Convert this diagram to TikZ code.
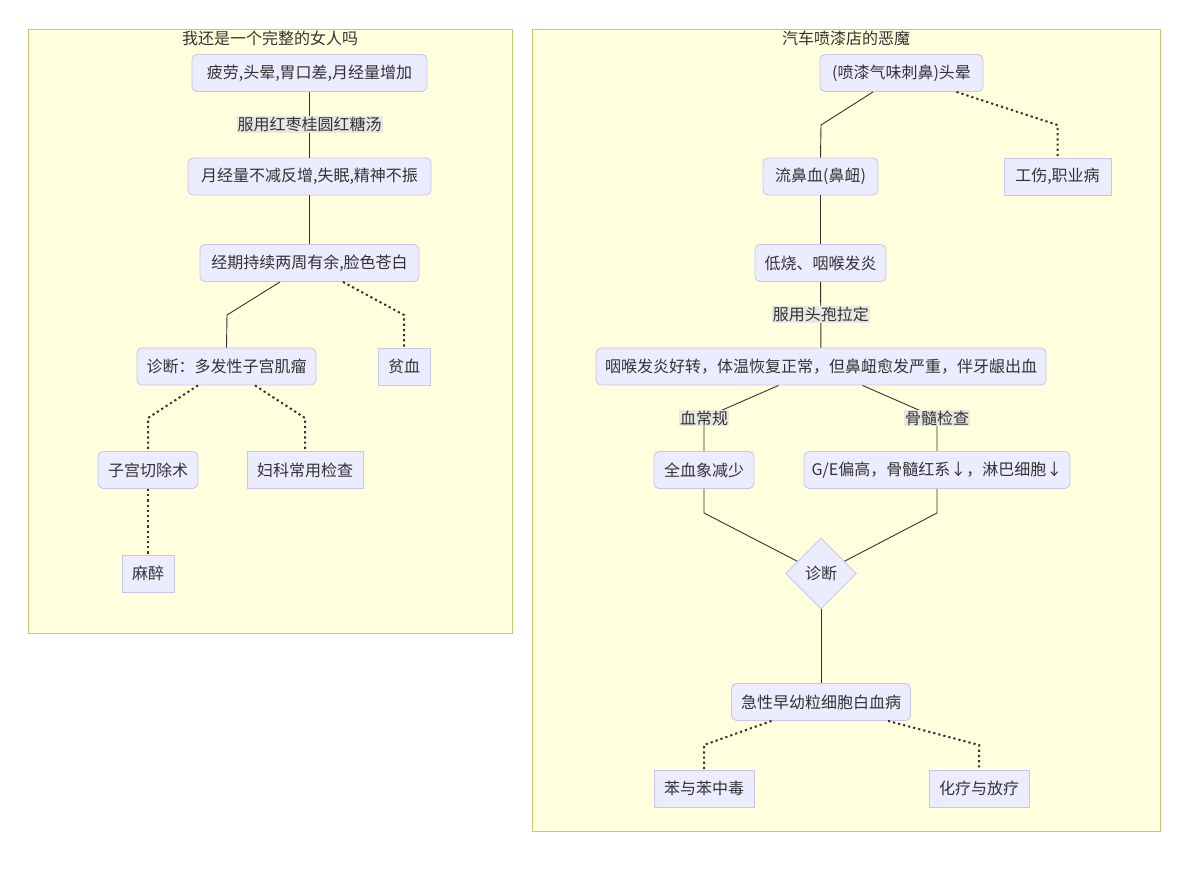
\documentclass[tikz,border=0pt]{standalone}
\usepackage{fontspec}
\setmainfont{Noto Sans CJK SC}
\usetikzlibrary{shapes.geometric}
\definecolor{nodefill}{HTML}{ECECFF}
\definecolor{nodeline}{HTML}{C6C6F2}
\definecolor{clfill}{HTML}{FFFFDE}
\definecolor{clline}{HTML}{C8C86E}
\definecolor{txt}{HTML}{333333}
\definecolor{lblbg}{HTML}{E8E8E2}
\begin{document}
\begin{tikzpicture}[x=1pt,y=-1pt,
  every node/.style={text=txt, font=\fontsize{16}{19}\selectfont},
  cluster/.style={draw=clline, fill=clfill, line width=1pt, inner sep=0pt},
  rbox/.style={draw=nodeline, fill=nodefill, rounded corners=5pt, minimum height=37pt, inner xsep=0pt, line width=0.9pt},
  sbox/.style={draw=nodeline, fill=nodefill, minimum height=37pt, inner xsep=0pt, line width=0.9pt},
  dbox/.style={diamond, draw=nodeline, fill=nodefill, minimum width=71pt, minimum height=71pt, inner sep=0pt, line width=0.9pt},
  edge/.style={draw=txt, line width=0.9pt},
  dotedge/.style={draw=txt, line width=2pt, dash pattern=on 2.2pt off 3pt},
  lbl/.style={fill=lblbg, inner sep=1pt}
]
\useasboundingbox (0,0) rectangle (1200,882);
\fill[white] (0,0) rectangle (1200,882);

% clusters
\node[cluster, minimum width=484pt, minimum height=603pt] (c1) at (270,331.5) {};
\node[cluster, minimum width=628pt, minimum height=801pt] (c2) at (846,430.5) {};
\node (t1) at (270,38) {我还是一个完整的女人吗};
\node (t2) at (846,38) {汽车喷漆店的恶魔};

% left nodes
\node[rbox, minimum width=235pt] (A) at (309.5,73) {疲劳,头晕,胃口差,月经量增加};
\node[rbox, minimum width=243pt] (B) at (309.5,176.5) {月经量不减反增,失眠,精神不振};
\node[rbox, minimum width=219pt] (C) at (309.5,263) {经期持续两周有余,脸色苍白};
\node[rbox, minimum width=179pt] (D) at (226.5,366.5) {诊断：多发性子宫肌瘤};
\node[sbox, minimum width=52pt] (E) at (404,366.5) {贫血};
\node[rbox, minimum width=100pt] (F) at (148,470) {子宫切除术};
\node[sbox, minimum width=116pt] (G) at (305,470) {妇科常用检查};
\node[sbox, minimum width=52pt] (H) at (148,573.5) {麻醉};

% right nodes
\node[rbox, minimum width=163pt] (R1) at (901.5,73) {(喷漆气味刺鼻)头晕};
\node[rbox, minimum width=115pt] (R2) at (820.5,176.5) {流鼻血(鼻衄)};
\node[sbox, minimum width=107pt] (R3) at (1057.5,176.5) {工伤,职业病};
\node[rbox, minimum width=131pt] (R4) at (820.5,263) {低烧、咽喉发炎};
\node[rbox, minimum width=450pt] (R5) at (821,366.5) {咽喉发炎好转，体温恢复正常，但鼻衄愈发严重，伴牙龈出血};
\node[rbox, minimum width=100pt] (R6) at (704,470) {全血象减少};
\node[rbox, minimum width=266pt] (R7) at (937,470) {G/E偏高，骨髓红系↓，淋巴细胞↓};
\node[dbox] (DG) at (821,573.5) {诊断};
\node[rbox, minimum width=179pt] (R8) at (821,702) {急性早幼粒细胞白血病};
\node[sbox, minimum width=100pt] (R9) at (704,788.5) {苯与苯中毒};
\node[sbox, minimum width=100pt] (R10) at (979,788.5) {化疗与放疗};

% left edges
\draw[edge] (A) -- node[lbl] {服用红枣桂圆红糖汤} (B);
\draw[edge] (B) -- (C);
\draw[edge] ([xshift=-29.5pt]C.south) -- (227,315) -- (D.north);
\draw[dotedge] ([xshift=33.5pt]C.south) -- (404,315) -- (E.north);
\draw[dotedge] ([xshift=-28.5pt]D.south) -- (148,418) -- (F.north);
\draw[dotedge] ([xshift=28.5pt]D.south) -- (305,418) -- (G.north);
\draw[dotedge] (F) -- (H);

% right edges
\draw[edge] ([xshift=-28.5pt]R1.south) -- (821,125) -- (R2.north);
\draw[dotedge] ([xshift=55pt]R1.south) -- (1057.5,125) -- (R3.north);
\draw[edge] (R2) -- (R4);
\draw[edge] (R4) -- node[lbl] {服用头孢拉定} (R5);
\draw[edge] ([xshift=-42.5pt]R5.south) -- (704,418) node[lbl] {血常规} -- (R6.north);
\draw[edge] ([xshift=41.5pt]R5.south) -- (937,418) node[lbl] {骨髓检查} -- (R7.north);
\draw[edge] (R6.south) -- (704,513) -- (DG);
\draw[edge] (R7.south) -- (937,513) -- (DG);
\draw[edge] (DG) -- (R8);
\draw[dotedge] ([xshift=-49.5pt]R8.south) -- (704,745) -- (R9.north);
\draw[dotedge] ([xshift=67pt]R8.south) -- (979,745) -- (R10.north);
\end{tikzpicture}
\end{document}
